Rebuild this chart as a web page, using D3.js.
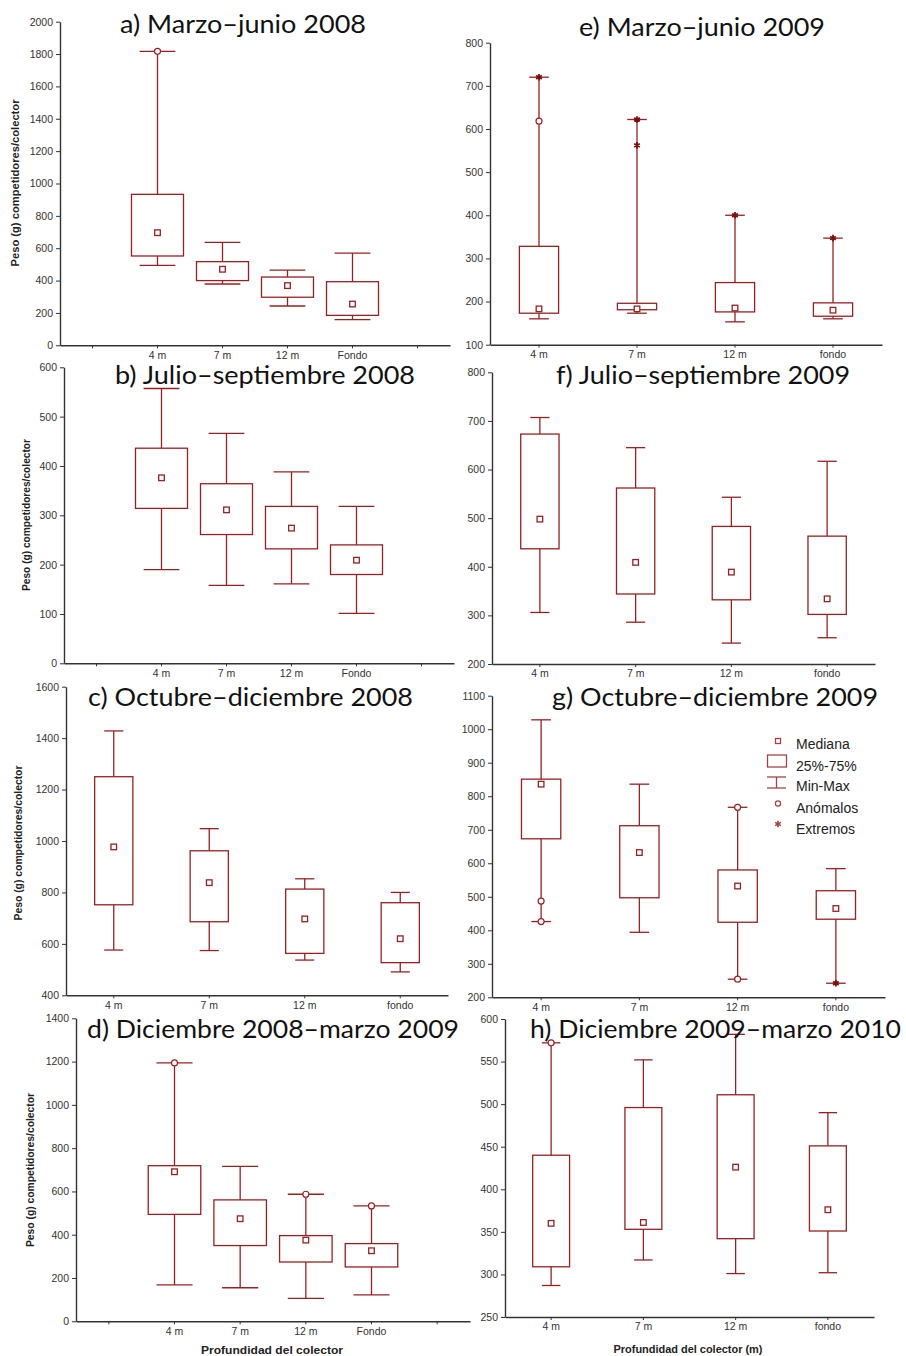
<!DOCTYPE html>
<html>
<head>
<meta charset="utf-8">
<script src="https://cdn.jsdelivr.net/npm/d3@7"></script>
<style>
  body { margin: 0; background: #fff; }
</style>
</head>
<body>
<script>
// categories (blank slots padded with distinct spaces so the band scale keeps them)
var slots6 = [" ", "4 m", "7 m", "12 m", "Fondo", "  "];
var catsUpper = ["4 m", "7 m", "12 m", "Fondo"];
var catsLower = ["4 m", "7 m", "12 m", "fondo"];

// each row: [min, q1, median, q3, max]
var boxesA = [[494, 552, 696, 933, 1817], [379, 400, 470, 517, 636], [243, 297, 369, 422, 465], [159, 185, 255, 393, 570]];
var boxesB = [[190, 314, 376, 436, 557], [158, 261, 311, 364, 466], [161, 232, 274, 318, 388], [101, 180, 209, 240, 318]];
var boxesC = [[576, 752, 977, 1250, 1428], [574, 686, 838, 962, 1048], [537, 563, 697, 813, 853], [491, 527, 620, 760, 800]];
var boxesD = [[168, 494, 691, 719, 1194], [155, 350, 474, 561, 716], [106, 274, 375, 396, 587], [122, 251, 326, 359, 533]];
var boxesE = [[160, 173, 183, 328, 720], [173, 181, 183, 196, 622], [153, 176, 185, 244, 400], [160, 166, 180, 197, 347]];
var boxesF = [[306, 437, 498, 673, 707], [286, 344, 409, 562, 645], [243, 332, 389, 483, 543], [254, 302, 334, 463, 617]];
var boxesG = [[426, 673, 836, 851, 1028], [394, 497, 632, 712, 836], [254, 424, 532, 580, 767], [242, 433, 465, 518, 584]];
var boxesH = [[287, 309, 360, 440, 572], [317, 353, 361, 496, 552], [301, 342, 426, 511, 582], [302, 351, 376, 451, 490]];

// outliers (Anómalos) and extremes (Extremos): [category, value]
var outliersA = [["4 m", 1817]];
var outliersD = [["4 m", 1194], ["12 m", 587], ["Fondo", 533]];
var outliersE = [["4 m", 618]];
var extremesE = [["4 m", 720], ["7 m", 622], ["7 m", 562], ["12 m", 400], ["fondo", 347]];
var outliersG = [["4 m", 487], ["4 m", 426], ["12 m", 767], ["12 m", 254]];
var extremesG = [["fondo", 242]];
var outliersH = [["4 m", 572]];

// y tick labels
var ticksA = [0, 200, 400, 600, 800, 1000, 1200, 1400, 1600, 1800, 2000];
var ticksB = [0, 100, 200, 300, 400, 500, 600];
var ticksC = [400, 600, 800, 1000, 1200, 1400, 1600];
var ticksD = [0, 200, 400, 600, 800, 1000, 1200, 1400];
var ticksE = [100, 200, 300, 400, 500, 600, 700, 800];
var ticksF = [200, 300, 400, 500, 600, 700, 800];
var ticksG = [200, 300, 400, 500, 600, 700, 800, 900, 1000, 1100];
var ticksH = [250, 300, 350, 400, 450, 500, 550, 600];

var titles = ["a) Marzo\u2013junio 2008", "b) Julio\u2013septiembre 2008", "c) Octubre\u2013diciembre 2008", "d) Diciembre 2008\u2013marzo 2009",
              "e) Marzo\u2013junio 2009", "f) Julio\u2013septiembre 2009", "g) Octubre\u2013diciembre 2009", "h) Diciembre 2009\u2013marzo 2010"];
var legendLabels = ["Mediana", "25%-75%", "Min-Max", "An\u00f3malos", "Extremos"];
var yTitle = "Peso (g) competidores/colector";

var boxColor = "#952222";
var axisColor = "#333";

var svg = d3.select("body").append("svg")
  .attr("width", 906)
  .attr("height", 1356)
  .style("font-family", "'Liberation Sans', Arial, sans-serif");

var panels = [
  {title: titles[0], slots: slots6, cats: catsUpper, boxes: boxesA, out: outliersA, ext: [], ticks: ticksA,
   x0: 60, x1: 450, yTop: 21.7, yBot: 345.3, wide: true, tx: 120, ty: 33, tw: 246, yl: [19, 183, 167]},
  {title: titles[1], slots: slots6, cats: catsUpper, boxes: boxesB, out: [], ext: [], ticks: ticksB,
   x0: 64, x1: 454, yTop: 367.3, yBot: 663.3, wide: true, tx: 115, ty: 384, tw: 300, yl: [30, 515, 152]},
  {title: titles[2], slots: catsLower, cats: catsLower, boxes: boxesC, out: [], ext: [], ticks: ticksC,
   x0: 66, x1: 448, yTop: 686.7, yBot: 995.3, wide: false, tx: 88, ty: 706, tw: 325, yl: [22, 843, 155]},
  {title: titles[3], slots: slots6, cats: catsUpper, boxes: boxesD, out: outliersD, ext: [], ticks: ticksD,
   x0: 76, x1: 470, yTop: 1018.3, yBot: 1321.3, wide: true, tx: 87, ty: 1038, tw: 372, yl: [33.5, 1170, 154],
   xl: ["Profundidad del colector", 272, 1354, 142]},
  {title: titles[4], slots: catsLower, cats: catsLower, boxes: boxesE, out: outliersE, ext: extremesE, ticks: ticksE,
   x0: 490, x1: 882, yTop: 42.7, yBot: 344.7, wide: false, tx: 579, ty: 36, tw: 246},
  {title: titles[5], slots: catsLower, cats: catsLower, boxes: boxesF, out: [], ext: [], ticks: ticksF,
   x0: 492, x1: 875, yTop: 372.3, yBot: 664, wide: false, tx: 556, ty: 384, tw: 294},
  {title: titles[6], slots: catsLower, cats: catsLower, boxes: boxesG, out: outliersG, ext: extremesG, ticks: ticksG,
   x0: 492, x1: 885, yTop: 695.7, yBot: 997.3, wide: false, tx: 552, ty: 706, tw: 326},
  {title: titles[7], slots: catsLower, cats: catsLower, boxes: boxesH, out: outliersH, ext: [], ticks: ticksH,
   x0: 505, x1: 874, yTop: 1019, yBot: 1317, wide: false, tx: 530, ty: 1038, tw: 371,
   xl: ["Profundidad del colector (m)", 688, 1353, 149]}
];

var star = d3.symbol().type(d3.symbolAsterisk).size(30);

panels.forEach(function(p) {
  var y = d3.scaleLinear()
    .domain([p.ticks[0], p.ticks[p.ticks.length - 1]])
    .range([p.yBot, p.yTop]);
  var x = d3.scaleBand()
    .domain(p.slots)
    .range([p.x0, p.x1]);
  var g = svg.append("g");

  var yAxis = g.append("g")
    .attr("transform", `translate(${p.x0},0)`)
    .call(d3.axisLeft(y).tickValues(p.ticks).tickFormat(d3.format("d")).tickSize(4).tickSizeOuter(0).tickPadding(3));
  var xAxis = g.append("g")
    .attr("transform", `translate(0,${p.yBot})`)
    .call(d3.axisBottom(x).tickSize(3).tickSizeOuter(0).tickFormat(d => d.trim()));

  [yAxis, xAxis].forEach(function(a) {
    a.select(".domain").attr("stroke", axisColor).attr("stroke-width", 1.4);
    a.selectAll(".tick line").attr("stroke", axisColor);
    a.selectAll("text").attr("fill", "#333").style("font-size", "10.5px").style("font-family", "'Liberation Sans', Arial, sans-serif");
  });

  var bw = x.bandwidth() * (p.wide ? 0.8 : 0.4);
  var cw = x.bandwidth() * (p.wide ? 0.55 : 0.2);
  var cx = c => x(c) + x.bandwidth() / 2;

  var rows = p.cats.map((c, i) => ({cat: c, v: p.boxes[i]}));
  var box = g.selectAll(".box")
    .data(rows)
    .enter()
    .append("g")
    .attr("transform", d => `translate(${cx(d.cat)},0)`)
    .attr("stroke", boxColor)
    .attr("stroke-width", 1.3)
    .attr("fill", "none");

  box.append("line").attr("y1", d => y(d.v[4])).attr("y2", d => y(d.v[3]));
  box.append("line").attr("y1", d => y(d.v[1])).attr("y2", d => y(d.v[0]));
  box.append("line").attr("x1", -cw / 2).attr("x2", cw / 2).attr("y1", d => y(d.v[4])).attr("y2", d => y(d.v[4]));
  box.append("line").attr("x1", -cw / 2).attr("x2", cw / 2).attr("y1", d => y(d.v[0])).attr("y2", d => y(d.v[0]));
  box.append("rect")
    .attr("x", -bw / 2)
    .attr("width", bw)
    .attr("y", d => y(d.v[3]))
    .attr("height", d => y(d.v[1]) - y(d.v[3]));
  box.append("rect")
    .attr("x", -2.8).attr("width", 5.6)
    .attr("y", d => y(d.v[2]) - 2.8).attr("height", 5.6)
    .attr("fill", "#fff");

  g.selectAll(".out")
    .data(p.out)
    .enter()
    .append("circle")
    .attr("cx", d => cx(d[0]))
    .attr("cy", d => y(d[1]))
    .attr("r", 3)
    .attr("fill", "#fff")
    .attr("stroke", boxColor)
    .attr("stroke-width", 1.2);

  g.selectAll(".ext")
    .data(p.ext)
    .enter()
    .append("path")
    .attr("d", star)
    .attr("transform", d => `translate(${cx(d[0])},${y(d[1])})`)
    .attr("stroke", "#7a0f0f")
    .attr("stroke-width", 1.8);

  if (p.yl) {
    g.append("text")
      .attr("transform", `translate(${p.yl[0]},${p.yl[1]}) rotate(-90)`)
      .attr("text-anchor", "middle")
      .attr("textLength", p.yl[2])
      .attr("lengthAdjust", "spacingAndGlyphs")
      .style("font-size", "10px")
      .style("font-weight", "bold")
      .attr("fill", "#222")
      .text(yTitle);
  }
  if (p.xl) {
    g.append("text")
      .attr("x", p.xl[1])
      .attr("y", p.xl[2])
      .attr("text-anchor", "middle")
      .attr("textLength", p.xl[3])
      .attr("lengthAdjust", "spacingAndGlyphs")
      .style("font-size", "10px")
      .style("font-weight", "bold")
      .attr("fill", "#222")
      .text(p.xl[0]);
  }

  g.append("text")
    .attr("x", p.tx)
    .attr("y", p.ty)
    .attr("textLength", p.tw)
    .attr("lengthAdjust", "spacingAndGlyphs")
    .style("font-family", "Lato, 'Open Sans', sans-serif")
    .style("font-size", "25.5px")
    .attr("fill", "#111")
    .text(p.title);
});

// legend (inside panel g)
var leg = svg.append("g").attr("stroke", "#a04545").attr("fill", "none").attr("stroke-width", 1.3);
leg.append("rect").attr("x", 775.5).attr("y", 738.5).attr("width", 5).attr("height", 5);
leg.append("rect").attr("x", 767.5).attr("y", 755).attr("width", 19).attr("height", 12);
leg.append("line").attr("x1", 767).attr("x2", 786).attr("y1", 777).attr("y2", 777);
leg.append("line").attr("x1", 767).attr("x2", 786).attr("y1", 788).attr("y2", 788);
leg.append("line").attr("x1", 776.5).attr("x2", 776.5).attr("y1", 777).attr("y2", 788);
leg.append("circle").attr("cx", 778).attr("cy", 803.5).attr("r", 2.6);
leg.append("path").attr("d", star).attr("transform", "translate(778,824)").attr("stroke-width", 1.6);

svg.selectAll(".legtext")
  .data(legendLabels)
  .enter()
  .append("text")
  .attr("x", 796)
  .attr("y", (d, i) => [749, 771, 791, 813, 834][i])
  .style("font-size", "14px")
  .attr("fill", "#222")
  .text(d => d);
</script>
</body>
</html>
